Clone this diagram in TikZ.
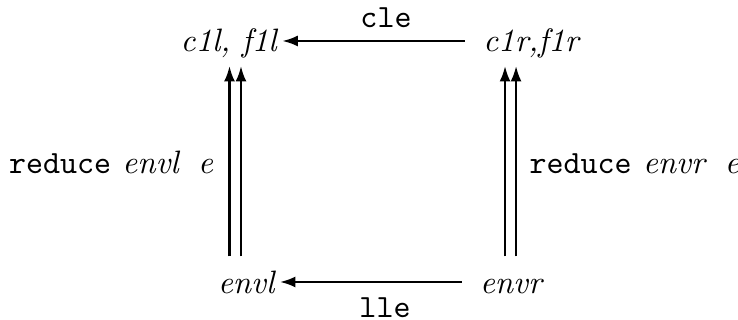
\documentclass[tikz,border=0pt]{standalone}
\usetikzlibrary{arrows.meta}
\begin{document}
\begin{tikzpicture}[x=0.3086pt,y=-0.3086pt,
    obj/.style={inner sep=1pt,anchor=base,text height=8.5pt,text depth=1.7pt},
    lbl/.style={inner sep=0pt},
    arr/.style={line width=0.75pt,-{Latex[length=4.8pt,width=3.4pt]}}]
    \useasboundingbox (0,0) rectangle (738,320);

    % corners of the square
    \node[obj] (cfl) at (229.5,52) {\textit{c1l, f1l}};
    \node[obj] (cfr) at (532,52) {\textit{c1r,f1r}};
    \node[obj] (envl) at (247,293) {\textit{envl}};
    \node[obj] (envr) at (512,293) {\textit{envr}};

    % horizontal arrows
    \draw[arr, shorten <=4.5pt] (cfr) -- (cfl);
    \draw[arr, shorten <=4.5pt] (envr) -- (envl);
    \node[lbl, anchor=base] (cle) at (386,28) {\texttt{cle}};
    \node[lbl, anchor=base] (lle) at (385,317) {\texttt{lle}};

    % double vertical arrows
    \draw[arr, shorten <=1.6pt, shorten >=1.4pt] ([xshift=-5.4pt]envl.north) -- ([xshift=-5.4pt]envl.north |- cfl.south);
    \draw[arr, shorten <=1.6pt, shorten >=1.4pt] ([xshift=-1.85pt]envl.north) -- ([xshift=-1.85pt]envl.north |- cfl.south);
    \draw[arr, shorten <=1.6pt, shorten >=1.4pt] ([xshift=-2.15pt]envr.north) -- ([xshift=-2.15pt]envr.north |- cfr.south);
    \draw[arr, shorten <=1.6pt, shorten >=1.4pt] ([xshift=1.25pt]envr.north) -- ([xshift=1.25pt]envr.north |- cfr.south);
    \node[lbl, anchor=base east] (redl) at (214,173) {\texttt{reduce}\hspace{3.5pt}\textit{envl}\hspace{5.5pt}\textit{e}};
    \node[lbl, anchor=base west] (redr) at (529,173) {\texttt{reduce}\hspace{3.5pt}\textit{envr}\hspace{5.5pt}\textit{e}};
\end{tikzpicture}
\end{document}
